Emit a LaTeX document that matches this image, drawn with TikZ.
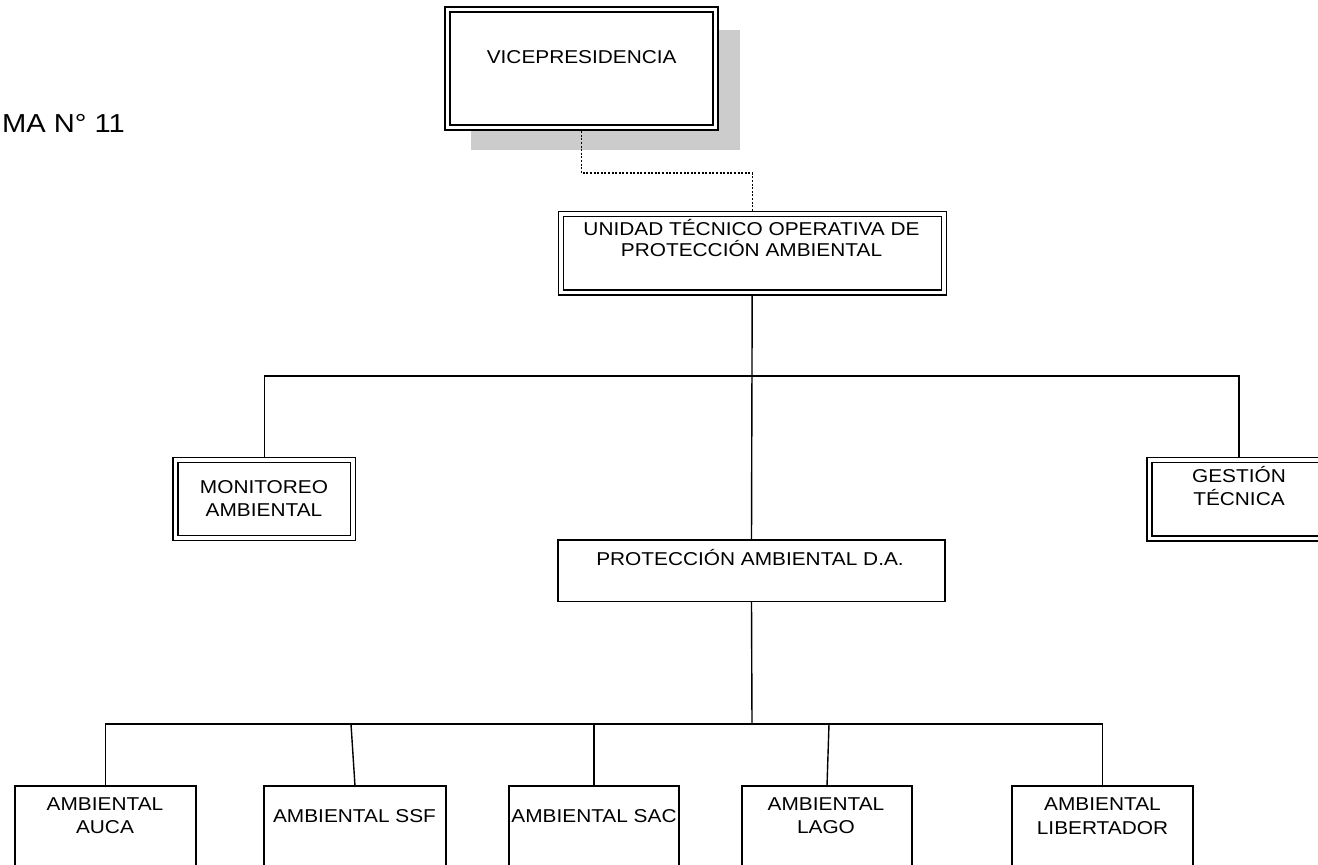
\documentclass[tikz,border=0pt]{standalone}
\usepackage{fontspec}
\setmainfont{Liberation Sans}[FakeStretch=1.12]
\usetikzlibrary{backgrounds,calc}
% one line of box text with no height, so that a node's north anchor sits on its first baseline
\newcommand\sline[1]{\smash{#1}}
\begin{document}
\begin{tikzpicture}[x=1pt,y=-1pt,
  dbox/.style={draw, double, line width=1.2pt, double distance=3.8pt, fill=white, inner sep=0pt, outer sep=0pt},
  sbox/.style={draw, line width=1.4pt, fill=white, inner sep=0pt, outer sep=0pt},
  txt/.style={inner sep=0pt, outer sep=0pt, align=center, anchor=north, font=\fontsize{18.6pt}{23.3pt}\selectfont},
  tight/.style={font=\fontsize{18.6pt}{21.5pt}\selectfont},
  link/.style={line width=1.4pt},
  dotlink/.style={line width=1.3pt, dash pattern=on 2pt off 1.6pt},
  shade/.style={fill=black!20}
]
\useasboundingbox (0,0) rectangle (1318,865);
\clip (0,0) rectangle (1318,865);

% title
\node[inner sep=0pt, anchor=base east, font=\fontsize{26pt}{30pt}\selectfont] (title) at (125,132) {MA N° 11};

% top level
\node[dbox, minimum width=268pt, minimum height=118pt] (vice) at (581.5,68.5) {};
\node[txt] (vice-t) at (581.7,63.3) {\sline{VICEPRESIDENCIA}};

\node[dbox, minimum width=383pt, minimum height=78.5pt] (unidad) at (752.2,253.2) {};
\node[txt, tight] (unidad-t) at (751.5,235) {\sline{UNIDAD TÉCNICO OPERATIVA DE}\\\sline{PROTECCIÓN AMBIENTAL}};

% second level
\node[dbox, minimum width=177.3pt, minimum height=78pt] (monitoreo) at (264.2,499) {};
\node[txt] (monitoreo-t) at (264,493.3) {\sline{MONITOREO}\\\sline{AMBIENTAL}};

\node[dbox, minimum width=179pt, minimum height=78.5pt] (gestion) at (1239,499.2) {};
\node[txt] (gestion-t) at (1239,482.3) {\sline{GESTIÓN}\\\sline{TÉCNICA}};

\node[sbox, minimum width=387pt, minimum height=61.7pt] (proteccion) at (751.5,570.8) {};
\node[txt] (proteccion-t) at (750,565) {\sline{PROTECCIÓN AMBIENTAL D.A.}};

% bottom level
\node[sbox, minimum width=181pt, minimum height=120pt] (auca) at (105.5,846) {};
\node[txt] (auca-t) at (105,810) {\sline{AMBIENTAL}\\\sline{AUCA}};

\node[sbox, minimum width=182pt, minimum height=120pt] (ssf) at (355,846) {};
\node[txt] (ssf-t) at (354.5,821.7) {\sline{AMBIENTAL SSF}};

\node[sbox, minimum width=170pt, minimum height=120pt] (sac) at (594,846) {};
\node[txt] (sac-t) at (594,821.7) {\sline{AMBIENTAL SAC}};

\node[sbox, minimum width=170pt, minimum height=120pt] (lago) at (827,846) {};
\node[txt] (lago-t) at (826,810) {\sline{AMBIENTAL}\\\sline{LAGO}};

\node[sbox, minimum width=181pt, minimum height=120pt] (libertador) at (1102.5,846) {};
\node[txt] (libertador-t) at (1102.5,810.7) {\sline{AMBIENTAL}\\\sline{LIBERTADOR}};

% bus bends and taps
\coordinate (dotbend) at (666,173);
\coordinate (busA) at (752,376);
\coordinate (busB) at (752,724);
\coordinate (ssftap) at (351,724);
\coordinate (lagotap) at (829,724);

\begin{scope}[on background layer]
  % drop shadow of the top box
  \fill[shade] ($(vice.north west)+(23,20)$) rectangle ($(vice.south east)+(24,22)$);
  % connectors
  \draw[dotlink] (vice.south) |- (dotbend) -| (unidad.north);
  \draw[link] (unidad.south) -- (proteccion.north);
  \draw[link] (monitoreo.north) |- (busA) -| (gestion.north);
  \draw[link] (proteccion.south) -- (busB);
  \draw[link] (auca.north) |- (busB) -| (libertador.north);
  \draw[link] (ssftap) -- (ssf.north);
  \draw[link] (sac.north) -- (sac.north |- busB);
  \draw[link] (lagotap) -- (lago.north);
\end{scope}
\end{tikzpicture}
\end{document}
